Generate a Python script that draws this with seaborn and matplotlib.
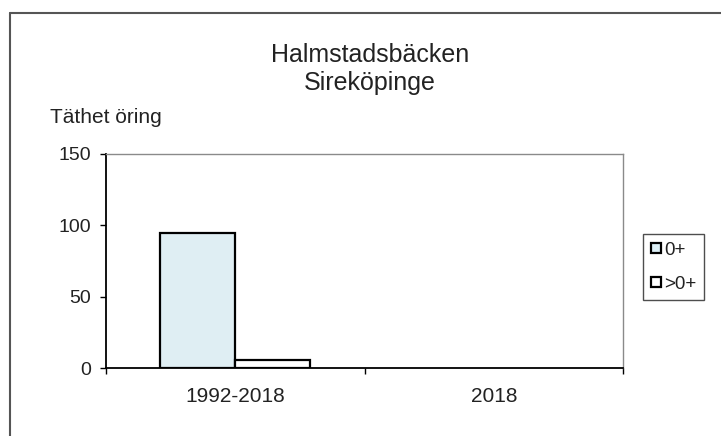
import numpy as np
import pandas as pd
import seaborn as sns
import matplotlib.pyplot as plt
from matplotlib.lines import Line2D
from matplotlib.ticker import FixedLocator

categories = ["1992-2018", "2018"]
series_names = ["0+", ">0+"]
values_0plus = [94.7, np.nan]
values_over0 = [5.6, np.nan]

df = pd.DataFrame({
    "period": categories * 2,
    "group": [series_names[0]] * 2 + [series_names[1]] * 2,
    "density": values_0plus + values_over0,
})

sns.set_style("white")
plt.rcParams["font.family"] = ["Liberation Sans", "DejaVu Sans"]

W, H = 721, 436
fig = plt.figure(figsize=(W / 100, H / 100), dpi=100)
ax = fig.add_axes([106 / W, 1 - 368 / H, 517 / W, 214 / H])

sns.barplot(data=df.dropna(), x="period", y="density", hue="group",
            order=categories, hue_order=series_names,
            palette=["#dceff6", "#ffffff"], width=0.58,
            edgecolor="black", linewidth=1.6, ax=ax)

ax.set_ylim(0, 150)
ax.set_xlim(-0.5, 1.5)
ax.set_yticks([0, 50, 100, 150])
ax.set_xlabel("")
ax.set_ylabel("")
ax.tick_params(axis="y", direction="out", length=4.5, width=1, color="black",
               labelsize=14, pad=6, left=True, labelcolor="#222222")
ax.tick_params(axis="x", which="major", length=0, labelsize=15, pad=14,
               labelcolor="#222222")
ax.xaxis.set_minor_locator(FixedLocator([-0.5, 0.5, 1.5]))
ax.tick_params(axis="x", which="minor", direction="out", length=4.5, width=1,
               color="black", bottom=True)

for side in ["left", "bottom"]:
    ax.spines[side].set_color("black")
    ax.spines[side].set_linewidth(1.3)
for side in ["top", "right"]:
    ax.spines[side].set_visible(True)
    ax.spines[side].set_color("#8a8a8a")
    ax.spines[side].set_linewidth(1)

if ax.get_legend() is not None:
    ax.get_legend().remove()

leg = fig.legend(handles=[
    Line2D([], [], marker="s", linestyle="none", markersize=7,
           markerfacecolor="#dceff6", markeredgecolor="black", markeredgewidth=1.6),
    Line2D([], [], marker="s", linestyle="none", markersize=7,
           markerfacecolor="white", markeredgecolor="black", markeredgewidth=1.6),
], labels=series_names, loc="upper left",
    bbox_to_anchor=(643 / W, 1 - 234 / H),
    frameon=True, fancybox=False, fontsize=13.5, handlelength=0.6,
    handletextpad=0.15, borderpad=0.4, labelspacing=0.9, borderaxespad=0)
leg.get_frame().set_edgecolor("#222222")
leg.get_frame().set_linewidth(1)
for t in leg.get_texts():
    t.set_color("#222222")

fig.text(370 / W, 1 - 62 / H, "Halmstadsbäcken", ha="center", va="baseline",
         fontsize=18, color="#222222")
fig.text(370 / W, 1 - 90 / H, "Sireköpinge", ha="center", va="baseline",
         fontsize=18, color="#222222")
fig.text(50 / W, 1 - 123 / H, "Täthet öring", ha="left", va="baseline",
         fontsize=15, color="#222222")

# outer chart border (left and top edges visible in the scan)
fig.add_artist(Line2D([10 / W, 10 / W], [0, 1 - 13 / H],
                      color="#555555", linewidth=1.5, transform=fig.transFigure))
fig.add_artist(Line2D([10 / W, 1], [1 - 13 / H, 1 - 13 / H],
                      color="#555555", linewidth=1.5, transform=fig.transFigure))

fig.savefig("out.png", dpi=100)
